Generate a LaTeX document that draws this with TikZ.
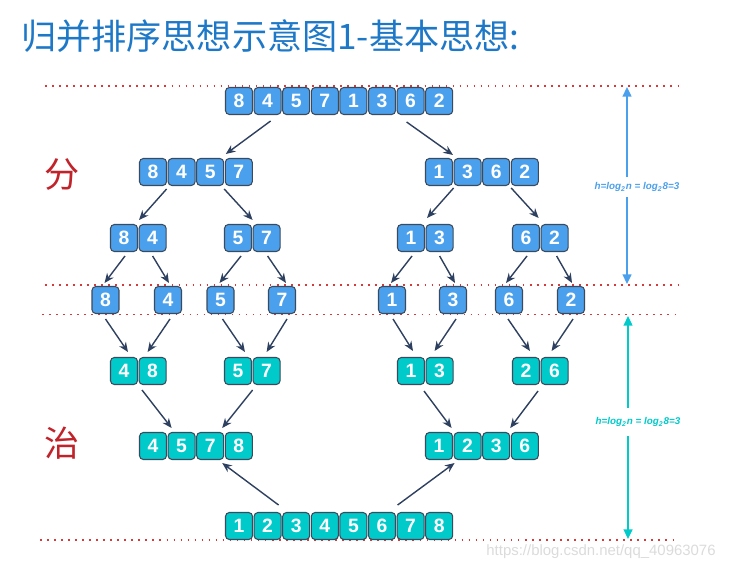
\documentclass[tikz,border=0pt]{standalone}
\usepackage{fontspec}
\setmainfont{Liberation Sans}
\newfontfamily\cjk{Noto Sans CJK SC}
\usetikzlibrary{arrows.meta,calc}
\definecolor{cellblue}{HTML}{4AA0EC}
\definecolor{cellteal}{HTML}{00CACA}
\definecolor{celledge}{HTML}{3C4A5C}
\definecolor{arrnavy}{HTML}{2E4060}
\definecolor{guidered}{HTML}{D63A3A}
\definecolor{titleblue}{HTML}{1E78C8}
\definecolor{hanred}{HTML}{C0232A}
\begin{document}
\begin{tikzpicture}[x=0.02cm,y=-0.02cm]
    \tikzstyle{cell}=[draw=celledge,line width=0.6pt,rounded corners=2.2pt,fill=cellblue,
      minimum width=0.54cm,minimum height=0.54cm,inner sep=0pt,text=white,
      font=\bfseries\fontsize{11}{11}\selectfont]
    \tikzstyle{mcell}=[cell,fill=cellteal]
    \tikzstyle{arr}=[draw=arrnavy,line width=0.8pt,-{Stealth[length=5.5pt,width=4.6pt]}]
    \tikzstyle{guide}=[draw=guidered,line width=1.1pt,dash pattern=on 0.9pt off 3.1pt]
    \tikzstyle{dim}=[line width=1.1pt,-{Triangle[length=5.5pt,width=5pt]}]
    \tikzstyle{dimlabel}=[font=\bfseries\itshape\fontsize{5.6}{5.6}\selectfont,inner sep=0pt]
    \useasboundingbox (0,0) rectangle (732,571);
    % title and side marks
    \node[anchor=west,text=titleblue,font=\cjk\fontsize{20}{20}\selectfont] (title) at (15,36) {归并排序思想示意图1-基本思想:};
    \node[text=hanred,font=\cjk\fontsize{20}{20}\selectfont] (fen) at (62,175) {分};
    \node[text=hanred,font=\cjk\fontsize{20}{20}\selectfont] (zhi) at (62,443) {治};
    % dotted guide lines
    \foreach \n/\y/\xa/\xb in {1/86/45/682,2/285/45/682,3/314.5/42/678,4/540/40/676} {
      \coordinate (g\n a) at (\xa,\y);
      \coordinate (g\n b) at (\xb,\y);
      \draw[guide] (g\n a) -- (g\n b);
    }
    % split rows
    \foreach \v [count=\i] in {8,4,5,7,1,3,6,2} {\node[cell] (r0-\i) at (210.4+28.6*\i,101) {\v};}
    \foreach \v [count=\i] in {8,4,5,7} {\node[cell] (r1a-\i) at (124.4+28.6*\i,172) {\v};}
    \foreach \v [count=\i] in {1,3,6,2} {\node[cell] (r1b-\i) at (410.4+28.6*\i,172) {\v};}
    \foreach \g/\x/\a/\b in {a/124/8/4,b/238/5/7,c/411/1/3,d/526/6/2} {
      \node[cell] (r2\g-1) at (\x,238) {\a};
      \node[cell] (r2\g-2) at (\x+28.6,238) {\b};
    }
    \foreach \v/\x [count=\i] in {8/105.5,4/168,5/220.5,7/282,1/392,3/453,6/509,2/571}
      {\node[cell] (r3-\i) at (\x,300) {\v};}
    % merge rows
    \foreach \g/\x/\a/\b in {a/124/4/8,b/238/5/7,c/411/1/3,d/526/2/6} {
      \node[mcell] (r4\g-1) at (\x,371) {\a};
      \node[mcell] (r4\g-2) at (\x+28.6,371) {\b};
    }
    \foreach \v [count=\i] in {4,5,7,8} {\node[mcell] (r5a-\i) at (124.4+28.6*\i,446) {\v};}
    \foreach \v [count=\i] in {1,2,3,6} {\node[mcell] (r5b-\i) at (410.4+28.6*\i,446) {\v};}
    \foreach \v in {1,...,8} {\node[mcell] (r6-\v) at (210.4+28.6*\v,526) {\v};}
    % arrows
    \foreach \s/\sx/\sy/\t/\tx/\ty in {
      r0-2/3/20/r1a-4/-13/-18, r0-7/-4/21/r1b-1/14/-17,
      r1a-2/-15/17/r2a-1/15/-18, r1a-3/14/17/r2b-2/-14/-18,
      r1b-2/-14/16/r2c-1/16/-20, r1b-3/15/16/r2d-2/-16/-20,
      r2a-1/1/18/r3-1/-1/-17, r2a-2/0/18/r3-2/1/-17,
      r2b-1/3/18/r3-3/-1/-17, r2b-2/1/18/r3-4/4/-17,
      r2c-1/1/18/r3-5/-1/-17, r2c-2/0/18/r3-6/2/-17,
      r2d-1/1/18/r3-7/-3/-17, r2d-2/2/18/r3-8/1/-17,
      r3-1/0/19/r4a-1/4/-19, r3-2/2/19/r4a-2/-5/-19,
      r3-3/2/19/r4b-1/7/-19, r3-4/5/19/r4b-2/0/-19,
      r3-5/1/19/r4c-1/2/-20, r3-6/3/19/r4c-2/-5/-20,
      r3-7/-1/19/r4d-1/4/-20, r3-8/2/19/r4d-2/-3/-20,
      r4a-1/18/19/r5a-2/-10/-18, r4b-2/-14/19/r5a-3/12/-18,
      r4c-1/13/20/r5b-2/-16/-18, r4d-1/12/20/r5b-3/14/-18,
      r6-2/11/-21/r5a-3/12/17, r6-7/-13/-21/r5b-2/-13/17}
      {\draw[arr] ($(\s)+(\sx,\sy)$) -- ($(\t)+(\tx,\ty)$);}
    % height marks
    \node[dimlabel,text=cellblue] (hsplit) at (637,187) {h=log\textsubscript{2}n = log\textsubscript{2}8=3};
    \coordinate (bt) at (627,87);  \coordinate (bm1) at (627,177);
    \coordinate (bm2) at (627,197); \coordinate (bb) at (627,284);
    \draw[dim,draw=cellblue] (bm1) -- (bt);
    \draw[dim,draw=cellblue] (bm2) -- (bb);
    \node[dimlabel,text=cellteal] (hmerge) at (638,422) {h=log\textsubscript{2}n = log\textsubscript{2}8=3};
    \coordinate (tt) at (628,316);  \coordinate (tm1) at (628,408);
    \coordinate (tm2) at (628,436); \coordinate (tb) at (628,539);
    \draw[dim,draw=cellteal] (tm1) -- (tt);
    \draw[dim,draw=cellteal] (tm2) -- (tb);
    \node[text=black!14,font=\fontsize{8.5}{8.5}\selectfont] (wm) at (601,552) {https://blog.csdn.net/qq\_40963076};
\end{tikzpicture}
\end{document}
